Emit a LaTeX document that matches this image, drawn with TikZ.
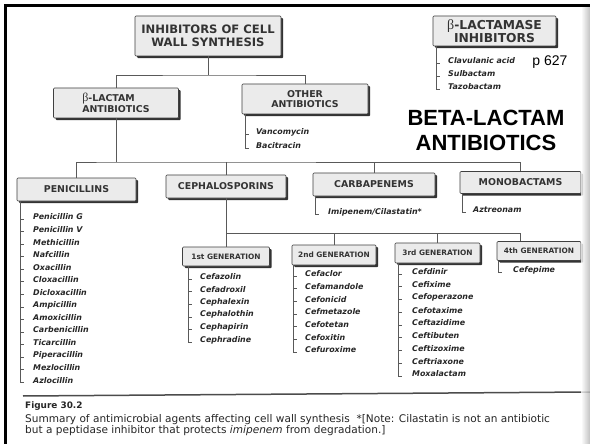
\documentclass[tikz,border=0pt]{standalone}
\usepackage{fontspec}
\setmainfont{Liberation Sans}
\newfontfamily\djv{DejaVu Sans}
\newfontfamily\grk{Liberation Serif}
\usetikzlibrary{shadows,calc}

\tikzset{
  box/.style={draw=black!75, line width=0.6pt, fill=gray!16, rounded corners=1pt,
    inner sep=0pt, text=black!80, align=center,
    drop shadow={shadow xshift=2.2pt, shadow yshift=-2.2pt, fill=black!80, opacity=1}},
  hbig/.style={font=\djv\bfseries\fontsize{11.6}{13}\selectfont},
  hmid/.style={font=\djv\bfseries\fontsize{9.4}{10.5}\selectfont},
  hsmall/.style={font=\djv\bfseries\fontsize{7.4}{8.5}\selectfont},
  drug/.style={font=\djv\bfseries\itshape\fontsize{7.9}{9}\selectfont, text=black!85,
    inner sep=0pt, anchor=west},
  conn/.style={draw=black!65, line width=0.6pt},
  tick/.style={draw=black!65, line width=0.6pt},
  caption/.style={anchor=west, inner sep=0pt, text=black!85},
}

% prefix, box node, x bracket, x text, y first, spacing, items
\newcommand\druglist[7]{%
  \foreach \dname [count=\di] in {#7} {
    \node[drug] (#1\di) at (#4, {#5+#6*(\di-1)}) {\dname};
    \draw[tick] (#3, {#5+#6*(\di-1)+2}) -- ++(4,0);
    \xdef\lastn{\di}
  }
  \draw[conn] (#3,0 |- #2.south) -- (#3, {#5+#6*(\lastn-1)+2});
}

\begin{document}
\begin{tikzpicture}[x=1pt,y=-1pt]
\useasboundingbox (0,0) rectangle (590,444);
\fill[white] (0,0) rectangle (590,444);

% boxes
\node[box, hbig, minimum width=146pt, minimum height=40pt] (top) at (208,36) {INHIBITORS OF CELL\\WALL SYNTHESIS};
\node[box, hmid, align=left, minimum width=125pt, minimum height=30pt] (blact) at (116,103) {{\grk\mdseries\fontsize{12}{12}\selectfont β}-LACTAM\\ANTIBIOTICS};
\node[box, hmid, minimum width=126pt, minimum height=30pt] (other) at (305,99) {OTHER\\ANTIBIOTICS};
\node[box, font=\djv\bfseries\fontsize{12.3}{13}\selectfont, minimum width=123pt, minimum height=30pt] (binh) at (494.5,31) {{\grk\mdseries\fontsize{14}{13}\selectfont β}-LACTAMASE\\INHIBITORS};

\node[box, hmid, minimum width=119pt, minimum height=23pt] (pen) at (76.5,189.5) {PENICILLINS};
\node[box, hmid, minimum width=120pt, minimum height=23pt] (ceph) at (226,186.5) {CEPHALOSPORINS};
\node[box, hmid, minimum width=122pt, minimum height=23pt] (carb) at (374,184.5) {CARBAPENEMS};
\node[box, hmid, minimum width=121pt, minimum height=22pt] (mono) at (520.5,182.5) {MONOBACTAMS};

\node[box, hsmall, minimum width=87pt, minimum height=19pt] (gen1) at (226,256.5) {1st GENERATION};
\node[box, hsmall, minimum width=84pt, minimum height=20pt] (gen2) at (334,255) {2nd GENERATION};
\node[box, hsmall, minimum width=85pt, minimum height=20pt] (gen3) at (437.5,253) {3rd GENERATION};
\node[box, hsmall, minimum width=84pt, minimum height=19pt] (gen4) at (539,251) {4th GENERATION};

% connectors
\coordinate (j1) at (208,75);
\draw[conn] (top.south) -- (j1);
\draw[conn] (blact.north) |- (j1) -| (other.north);

\coordinate (j2) at (116,162);
\draw[conn] (blact.south) -- (j2);
\draw[conn] (pen.north) |- (j2) -| (mono.north);
\draw[conn] (ceph.north) -- (ceph.north |- j2);
\draw[conn] (carb.north) -- (carb.north |- j2);

\coordinate (j3) at (226,233);
\draw[conn] (ceph.south) -- (gen1.north);
\draw[conn] (j3) -| ([xshift=-19pt]gen4.north);
\draw[conn] (gen2.north) -- (gen2.north |- j3);
\draw[conn] (gen3.north) -- (gen3.north |- j3);

% lists
\druglist{oth}{other}{245}{256}{132}{14}{Vancomycin,Bacitracin}
\druglist{bi}{binh}{436}{448}{61}{13}{Clavulanic acid,Sulbactam,Tazobactam}
\druglist{pe}{pen}{20}{33}{217}{12.55}{Penicillin G,Penicillin V,Methicillin,Nafcillin,Oxacillin,Cloxacillin,Dicloxacillin,Ampicillin,Amoxicillin,Carbenicillin,Ticarcillin,Piperacillin,Mezlocillin,Azlocillin}
\druglist{ca}{carb}{315}{328}{212}{12.6}{Imipenem/Cilastatin*}
\druglist{mo}{mono}{462}{473}{210}{12.6}{Aztreonam}
\druglist{ga}{gen1}{188}{200}{277}{12.6}{Cefazolin,Cefadroxil,Cephalexin,Cephalothin,Cephapirin,Cephradine}
\druglist{gb}{gen2}{293}{305}{274}{12.67}{Cefaclor,Cefamandole,Cefonicid,Cefmetazole,Cefotetan,Cefoxitin,Cefuroxime}
\druglist{gc}{gen3}{398}{412}{272}{12.75}{Cefdinir,Cefixime,Cefoperazone,Cefotaxime,Ceftazidime,Ceftibuten,Ceftizoxime,Ceftriaxone,Moxalactam}
\druglist{gd}{gen4}{498}{513}{270}{12.6}{Cefepime}

% free texts
\node[font=\fontsize{14}{16}\selectfont, inner sep=0pt] (pg) at (550,62) {p 627};
\node[font=\bfseries\fontsize{22}{25}\selectfont, align=center, inner sep=0pt] (title) at (486,130.5) {BETA-LACTAM\\ANTIBIOTICS};

% caption
\draw[line width=1.5pt, black!70] (23,396) -- (590,392);
\node[caption, font=\djv\bfseries\fontsize{8.9}{11}\selectfont] (fig) at (25,406) {Figure 30.2};
\node[caption, font=\djv\fontsize{10.55}{12}\selectfont] (cap1) at (25,420) {Summary of antimicrobial agents affecting cell wall synthesis\ \ *[Note: Cilastatin is not an antibiotic};
\node[caption, font=\djv\fontsize{10.55}{12}\selectfont] (cap2) at (25,430.5) {but a peptidase inhibitor that protects \textit{imipenem} from degradation.]};

% frame and scan edge
\shade[left color=white, right color=gray!60, opacity=0.8] (581,7) rectangle (590,444);
\draw[line width=2.5pt] (5.5,444) -- (5.5,5.5) -- (590,5.5);
\end{tikzpicture}
\end{document}
